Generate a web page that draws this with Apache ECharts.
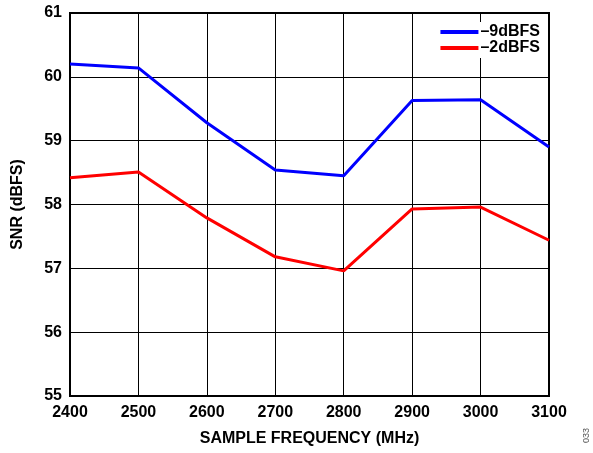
<!DOCTYPE html>
<html>
<head>
<meta charset="utf-8">
<script src="https://cdn.jsdelivr.net/npm/echarts@6/dist/echarts.min.js"></script>
<style>
  html, body { margin: 0; padding: 0; background: #fff; }
  #chart { width: 593px; height: 453px; }
</style>
</head>
<body>
<div id="chart"></div>
<script>
// sample frequency (MHz)
var freqs = [2400, 2500, 2600, 2700, 2800, 2900, 3000, 3100];
// SNR values
var snrMinus9 = [60.20, 60.14, 59.28, 58.54, 58.45, 59.63, 59.64, 58.90];
var snrMinus2 = [58.42, 58.51, 57.79, 57.18, 56.96, 57.93, 57.96, 57.44];

function pairs(ys) {
  return freqs.map(function (f, i) { return [f, ys[i]]; });
}

var font = 'Liberation Sans, Arial, sans-serif';
var chart = echarts.init(document.getElementById('chart'));

chart.setOption({
  animation: false,
  grid: {
    left: 70, right: 44, top: 13, bottom: 57,
    show: true, borderColor: '#000', borderWidth: 2
  },
  legend: {
    orient: 'vertical',
    right: 50, top: 22,
    icon: 'rect',
    itemWidth: 38, itemHeight: 4, itemGap: 0,
    backgroundColor: '#fff',
    padding: [2, 3, 2, 3],
    textStyle: { color: '#000', fontFamily: font, fontWeight: 'bold', fontSize: 16, padding: [0, 0, 0, -3] },
    data: ['–9dBFS', '–2dBFS']
  },
  xAxis: {
    type: 'value', min: 2400, max: 3100, interval: 100,
    name: 'SAMPLE FREQUENCY (MHz)', nameLocation: 'middle', nameGap: 35,
    nameTextStyle: { color: '#000', fontFamily: font, fontWeight: 'bold', fontSize: 16 },
    axisLine: { show: false },
    axisTick: { show: false },
    axisLabel: {
      color: '#000', fontFamily: font, fontWeight: 'bold', fontSize: 16, margin: 9,
      formatter: function (v) { return String(v); }
    },
    splitLine: { show: true, lineStyle: { color: '#000', width: 1 } }
  },
  yAxis: {
    type: 'value', min: 55, max: 61, interval: 1,
    name: 'SNR (dBFS)', nameLocation: 'middle', nameGap: 44,
    nameTextStyle: { color: '#000', fontFamily: font, fontWeight: 'bold', fontSize: 16 },
    axisLine: { show: false },
    axisTick: { show: false },
    axisLabel: { color: '#000', fontFamily: font, fontWeight: 'bold', fontSize: 16, margin: 8 },
    splitLine: { show: true, lineStyle: { color: '#000', width: 1 } }
  },
  series: [
    {
      name: '–9dBFS', type: 'line', data: pairs(snrMinus9),
      showSymbol: false, symbol: 'none',
      lineStyle: { color: '#0000ff', width: 3 }, itemStyle: { color: '#0000ff' }
    },
    {
      name: '–2dBFS', type: 'line', data: pairs(snrMinus2),
      showSymbol: false, symbol: 'none',
      lineStyle: { color: '#ff0000', width: 3 }, itemStyle: { color: '#ff0000' }
    }
  ],
  graphic: [{
    type: 'text', left: 582, top: 428, rotation: Math.PI / 2,
    style: { text: '033', fill: '#555', font: '9px ' + font }
  }]
});
</script>
</body>
</html>
